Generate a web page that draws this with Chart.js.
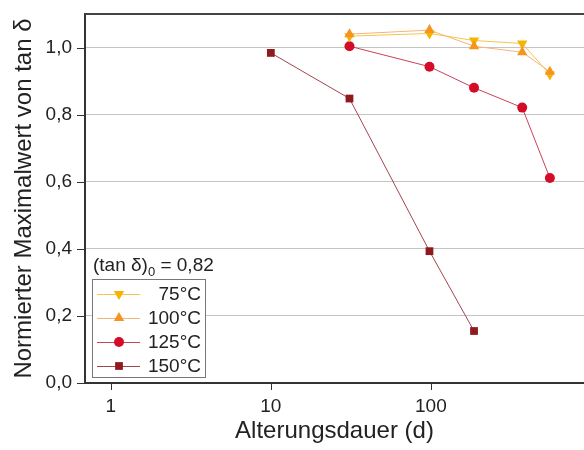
<!DOCTYPE html>
<html lang="de">
<head>
<meta charset="UTF-8">
<title>Normierter Maximalwert von tan δ</title>
<script src="https://cdn.jsdelivr.net/npm/chart.js@4"></script>
<style>
  html, body { margin: 0; padding: 0; background: #fff; }
  #wrap { width: 584px; height: 450px; }
</style>
</head>
<body>
<div id="wrap"><canvas id="chart" width="584" height="450"></canvas></div>
<script>
  // Alterungsdauer in Tagen und normierte Maximalwerte von tan δ
  const days75 = [31, 98, 186, 372, 554];
  const vals75 = [1.034, 1.042, 1.021, 1.012, 0.920];
  const days100 = [31, 98, 186, 372, 554];
  const vals100 = [1.040, 1.052, 1.004, 0.986, 0.928];
  const days125 = [31, 98, 186, 372, 554];
  const vals125 = [1.004, 0.943, 0.880, 0.821, 0.611];
  const days150 = [10, 31, 98, 186];
  const vals150 = [0.984, 0.848, 0.393, 0.155];

  const seriesLabels = ["75°C", "100°C", "125°C", "150°C"];
  const refNote = "0,82"; // (tan δ)0

  const FONT = "'Liberation Sans', Arial, sans-serif";
  const toPoints = (xs, ys) => xs.map((d, i) => ({ x: d, y: ys[i] }));

  function drawMarker(ctx, style, rot, r, x, y) {
    ctx.beginPath();
    if (style === "circle") {
      ctx.arc(x, y, r, 0, Math.PI * 2);
    } else if (style === "rect") {
      const s = Math.SQRT1_2 * r;
      ctx.rect(x - s, y - s, 2 * s, 2 * s);
    } else {
      const d = rot ? -1 : 1;
      ctx.moveTo(x, y - d * r);
      ctx.lineTo(x + Math.sin(Math.PI / 3) * r, y + d * r / 2);
      ctx.lineTo(x - Math.sin(Math.PI / 3) * r, y + d * r / 2);
      ctx.closePath();
    }
    ctx.fill();
  }

  const framePlugin = {
    id: "frame",
    beforeDatasetsDraw(chart) {
      const { ctx, chartArea: a, scales: { y } } = chart;
      ctx.save();
      ctx.strokeStyle = "#cfcfcf";
      ctx.lineWidth = 1;
      ctx.setLineDash([2, 2]);
      y.ticks.forEach(t => {
        const k = Math.round(t.value * 10);
        if (k % 2 === 0 || k >= 11) return;
        const py = Math.round(y.getPixelForValue(t.value)) + 0.5;
        ctx.beginPath();
        ctx.moveTo(a.left, py);
        ctx.lineTo(a.right, py);
        ctx.stroke();
      });
      ctx.restore();
    },
    afterDraw(chart) {
      const { ctx, chartArea: a, scales: { x, y } } = chart;
      ctx.save();
      ctx.strokeStyle = "#333";
      ctx.lineWidth = 1;

      // x tick marks (outward)
      x.ticks.forEach(t => {
        const v = t.value;
        if (v <= x.min || v > x.max) return;
        const e = Math.floor(Math.log10(v) + 1e-9);
        const m = v / Math.pow(10, e);
        if (Math.abs(m - Math.round(m)) > 1e-6) return;
        const len = Math.abs(m - 1) < 1e-6 ? 7 : 4;
        const px = Math.round(x.getPixelForValue(v)) + 0.5;
        ctx.beginPath();
        ctx.moveTo(px, a.bottom);
        ctx.lineTo(px, a.bottom + len);
        ctx.stroke();
      });

      // y tick marks (outward)
      y.ticks.forEach(t => {
        const k = Math.round(t.value * 10);
        if (k >= 11) return;
        const len = k % 2 === 0 ? 8 : 4;
        const py = Math.round(y.getPixelForValue(t.value)) + 0.5;
        ctx.beginPath();
        ctx.moveTo(a.left, py);
        ctx.lineTo(a.left - len, py);
        ctx.stroke();
      });

      // top frame line
      ctx.strokeStyle = "#444";
      ctx.lineWidth = 2;
      ctx.beginPath();
      ctx.moveTo(a.left, a.top);
      ctx.lineTo(a.right, a.top);
      ctx.stroke();

      // legend box
      const bx = a.left + 7, by = a.top + 265, bw = 113, bh = 98;
      ctx.fillStyle = "#fff";
      ctx.fillRect(bx, by, bw, bh);
      ctx.strokeStyle = "#777";
      ctx.lineWidth = 1;
      ctx.strokeRect(bx + 0.5, by + 0.5, bw, bh);

      // note above the legend
      ctx.fillStyle = "#222";
      ctx.textBaseline = "alphabetic";
      ctx.textAlign = "left";
      let tx = bx + 1;
      const ty = by - 8;
      ctx.font = "19px " + FONT;
      ctx.fillText("(tan δ)", tx, ty);
      tx += ctx.measureText("(tan δ)").width;
      ctx.font = "13px " + FONT;
      ctx.fillText("0", tx, ty + 5);
      tx += ctx.measureText("0").width;
      ctx.font = "19px " + FONT;
      ctx.fillText(" = " + refNote, tx, ty);

      // legend rows
      chart.data.datasets.forEach((ds, i) => {
        const cy = by + 15 + i * 24;
        ctx.strokeStyle = ds.borderColor;
        ctx.lineWidth = 1;
        ctx.beginPath();
        ctx.moveTo(bx + 5, cy + 0.5);
        ctx.lineTo(bx + 48, cy + 0.5);
        ctx.stroke();
        ctx.fillStyle = ds.pointBackgroundColor;
        drawMarker(ctx, ds.pointStyle, ds.pointRotation, ds.pointRadius, bx + 27, cy);
        ctx.fillStyle = "#222";
        ctx.font = "19px " + FONT;
        ctx.textAlign = "right";
        ctx.textBaseline = "middle";
        ctx.fillText(ds.label, bx + bw - 4, cy + 1);
      });
      ctx.restore();
    }
  };

  function series(label, xs, ys, lineColor, markColor, style, rot, r, order) {
    return {
      label: label,
      data: toPoints(xs, ys),
      order: order,
      showLine: true,
      borderColor: lineColor,
      borderWidth: 1,
      pointBackgroundColor: markColor,
      pointBorderColor: markColor,
      pointBorderWidth: 0,
      pointStyle: style,
      pointRotation: rot,
      pointRadius: r,
      pointHoverRadius: r
    };
  }

  new Chart(document.getElementById("chart"), {
    type: "scatter",
    data: {
      datasets: [
        series(seriesLabels[0], days75, vals75, "#f3c64a", "#f5b400", "triangle", 180, 6, 1),
        series(seriesLabels[1], days100, vals100, "#f5b578", "#f7941d", "triangle", 0, 6, 0),
        series(seriesLabels[2], days125, vals125, "#c8425a", "#d40c2a", "circle", 0, 5, 2),
        series(seriesLabels[3], days150, vals150, "#a5434f", "#8e1a1e", "rect", 0, 5.5, 3)
      ]
    },
    options: {
      responsive: false,
      animation: false,
      devicePixelRatio: 1,
      layout: { autoPadding: false, padding: { top: 14, right: 0, left: 0, bottom: 0 } },
      plugins: { legend: { display: false }, tooltip: { enabled: false } },
      scales: {
        x: {
          type: "logarithmic",
          min: 0.69,
          max: 905,
          grid: { drawOnChartArea: false, drawTicks: false },
          border: { color: "#333", width: 2 },
          ticks: {
            autoSkip: false,
            maxRotation: 0,
            padding: 12,
            color: "#222",
            font: { family: FONT, size: 19 },
            callback: v => {
              const l = Math.log10(v);
              return Math.abs(l - Math.round(l)) < 1e-6 ? String(Math.round(v)) : null;
            }
          },
          title: {
            display: true,
            text: "Alterungsdauer (d)",
            color: "#222",
            font: { family: FONT, size: 24 },
            padding: { top: 0, bottom: 4 }
          },
          afterFit: s => { s.height = 67; s.paddingLeft = 0; s.paddingRight = 0; }
        },
        y: {
          min: 0,
          max: 1.1,
          grid: {
            drawTicks: false,
            lineWidth: 1,
            color: c => {
              const k = Math.round(c.tick.value * 10);
              return (k % 2 === 0 && k > 0 && k < 11) ? "#c4c4c4" : "rgba(0,0,0,0)";
            }
          },
          border: { color: "#333", width: 2 },
          ticks: {
            stepSize: 0.1,
            autoSkip: false,
            padding: 13,
            color: "#222",
            font: { family: FONT, size: 19 },
            callback: v => {
              const k = Math.round(v * 10);
              return (k % 2 === 0 && k < 11) ? (k / 10).toFixed(1).replace(".", ",") : null;
            }
          },
          title: {
            display: true,
            text: "Normierter Maximalwert von tan δ",
            color: "#222",
            font: { family: FONT, size: 24 },
            padding: { top: 10, bottom: 0 }
          },
          afterFit: s => { s.width = 85; s.paddingTop = 0; s.paddingBottom = 0; }
        }
      }
    },
    plugins: [framePlugin]
  });
</script>
</body>
</html>
